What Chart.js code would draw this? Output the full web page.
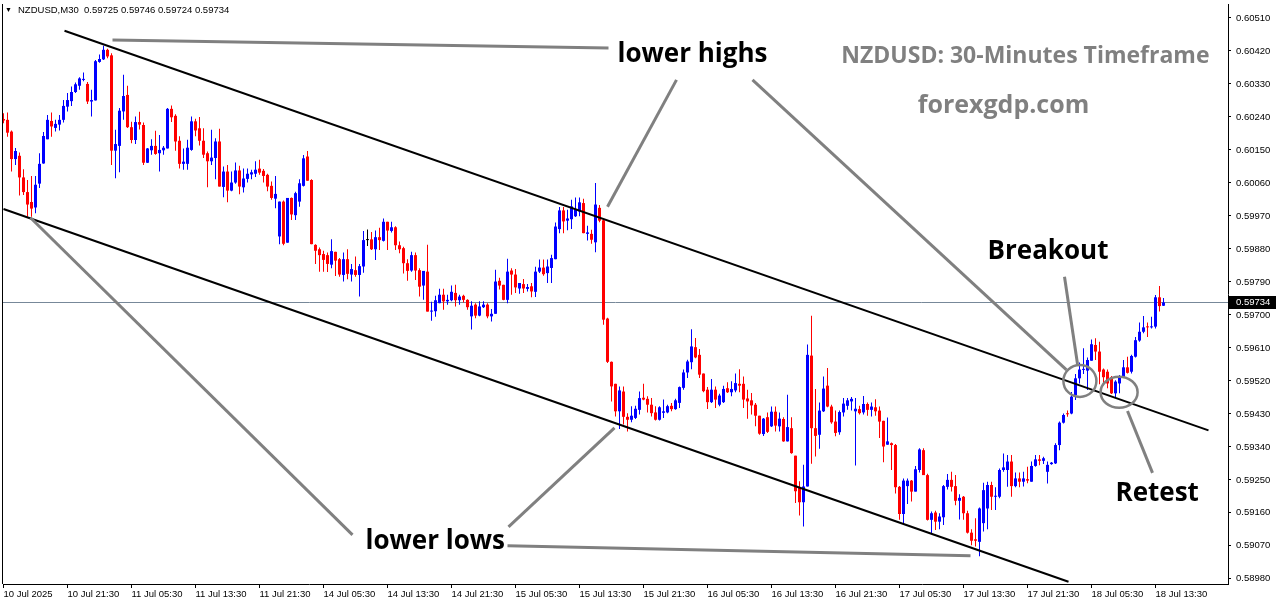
<!DOCTYPE html>
<html>
<head>
<meta charset="utf-8">
<title>NZDUSD M30</title>
<script src="https://cdn.jsdelivr.net/npm/chart.js@4.4.0/dist/chart.umd.min.js"></script>
<style>
  html, body { margin: 0; padding: 0; background: #fff; overflow: hidden; }
  canvas { display: block; }
</style>
</head>
<body>
<canvas id="chart" width="1276" height="604"></canvas>
<script>
// ---- data (NZDUSD, M30) ----
const symbolTitle = "NZDUSD,M30";
const lastPrice = 0.59734;

// bottom axis labels, one every 16 bars
const xLabels = [
  "10 Jul 2025", "10 Jul 21:30", "11 Jul 05:30", "11 Jul 13:30", "11 Jul 21:30",
  "14 Jul 05:30", "14 Jul 13:30", "14 Jul 21:30", "15 Jul 05:30", "15 Jul 13:30",
  "15 Jul 21:30", "16 Jul 05:30", "16 Jul 13:30", "16 Jul 21:30", "17 Jul 05:30",
  "17 Jul 13:30", "17 Jul 21:30", "18 Jul 05:30", "18 Jul 13:30"
];
const barsPerLabel = 16;

// right axis price labels
const yTicks = [
  0.60510, 0.60420, 0.60330, 0.60240, 0.60150, 0.60060, 0.59970, 0.59880, 0.59790,
  0.59700, 0.59610, 0.59520, 0.59430, 0.59340, 0.59250, 0.59160, 0.59070, 0.58980
];

const opens = [
  0.60234,0.60232,0.60200,0.60125,0.60134,0.60075,0.60035,0.60008,0.59993,0.60058,
  0.60113,0.60179,0.60229,0.60210,0.60219,0.60232,0.60268,0.60283,0.60308,0.60325,
  0.60341,0.60330,0.60282,0.60285,0.60390,0.60397,0.60423,0.60408,0.60148,0.60161,
  0.60255,0.60300,0.60212,0.60177,0.60226,0.60218,0.60115,0.60149,0.60161,0.60141,
  0.60149,0.60154,0.60262,0.60243,0.60175,0.60112,0.60112,0.60150,0.60228,0.60209,
  0.60175,0.60141,0.60119,0.60128,0.60173,0.60049,0.60091,0.60039,0.60061,0.60094,
  0.60048,0.60071,0.60083,0.60085,0.60099,0.60093,0.60082,0.60052,0.60017,0.59914,
  0.60009,0.59897,0.60019,0.59972,0.60009,0.60052,0.60132,0.60068,0.59891,0.59879,
  0.59866,0.59863,0.59837,0.59872,0.59852,0.59809,0.59852,0.59810,0.59822,0.59809,
  0.59832,0.59904,0.59906,0.59879,0.59912,0.59902,0.59954,0.59929,0.59939,0.59890,
  0.59882,0.59841,0.59821,0.59863,0.59822,0.59780,0.59818,0.59709,0.59710,0.59732,
  0.59755,0.59737,0.59740,0.59760,0.59740,0.59752,0.59741,0.59696,0.59728,0.59698,
  0.59721,0.59728,0.59696,0.59703,0.59793,0.59782,0.59741,0.59821,0.59810,0.59772,
  0.59784,0.59771,0.59778,0.59763,0.59818,0.59829,0.59814,0.59828,0.59852,0.59934,
  0.59985,0.59957,0.59961,0.59969,0.59982,0.60005,0.59921,0.59921,0.59898,0.59992,
  0.59958,0.59690,0.59572,0.59512,0.59437,0.59491,0.59422,0.59414,0.59419,0.59441,
  0.59474,0.59471,0.59455,0.59434,0.59414,0.59433,0.59434,0.59452,0.59443,0.59460,
  0.59501,0.59543,0.59571,0.59612,0.59591,0.59540,0.59496,0.59462,0.59496,0.59455,
  0.59462,0.59500,0.59489,0.59494,0.59512,0.59512,0.59472,0.59467,0.59455,0.59425,
  0.59375,0.59421,0.59396,0.59436,0.59396,0.59416,0.59355,0.59391,0.59316,0.59228,
  0.59189,0.59232,0.59589,0.59391,0.59373,0.59437,0.59507,0.59450,0.59409,0.59380,
  0.59434,0.59452,0.59464,0.59437,0.59443,0.59434,0.59457,0.59441,0.59448,0.59439,
  0.59411,0.59346,0.59350,0.59345,0.59231,0.59157,0.59233,0.59248,0.59218,0.59277,
  0.59331,0.59263,0.59141,0.59161,0.59136,0.59148,0.59231,0.59250,0.59233,0.59193,
  0.59204,0.59159,0.59106,0.59088,0.59081,0.59132,0.59172,0.59236,0.59204,0.59204,
  0.59277,0.59277,0.59300,0.59233,0.59254,0.59245,0.59252,0.59245,0.59288,0.59306,
  0.59302,0.59272,0.59293,0.59295,0.59345,0.59406,0.59431,0.59431,0.59481,0.59527,
  0.59550,0.59548,0.59575,0.59618,0.59600,0.59551,0.59545,0.59530,0.59486,0.59513,
  0.59531,0.59557,0.59545,0.59586,0.59630,0.59654,0.59668,0.59666,0.59668,0.59748,0.59725
];
const highs = [
  0.60250,0.60252,0.60203,0.60155,0.60143,0.60097,0.60068,0.60079,0.60079,0.60141,
  0.60199,0.60245,0.60252,0.60232,0.60245,0.60286,0.60305,0.60323,0.60334,0.60348,
  0.60361,0.60335,0.60314,0.60395,0.60410,0.60434,0.60426,0.60414,0.60205,0.60264,
  0.60355,0.60325,0.60227,0.60241,0.60254,0.60225,0.60155,0.60179,0.60202,0.60191,
  0.60161,0.60264,0.60271,0.60247,0.60187,0.60154,0.60178,0.60241,0.60235,0.60240,
  0.60209,0.60146,0.60205,0.60182,0.60208,0.60105,0.60109,0.60091,0.60116,0.60107,
  0.60099,0.60099,0.60096,0.60119,0.60123,0.60098,0.60085,0.60064,0.60079,0.60009,
  0.60012,0.60019,0.60020,0.60036,0.60070,0.60136,0.60147,0.60070,0.59893,0.59884,
  0.59875,0.59870,0.59906,0.59872,0.59855,0.59870,0.59879,0.59839,0.59859,0.59839,
  0.59929,0.59933,0.59926,0.59930,0.59938,0.59963,0.59954,0.59954,0.59942,0.59900,
  0.59886,0.59852,0.59872,0.59870,0.59827,0.59820,0.59891,0.59736,0.59752,0.59771,
  0.59771,0.59755,0.59780,0.59782,0.59755,0.59755,0.59743,0.59737,0.59732,0.59737,
  0.59737,0.59732,0.59716,0.59823,0.59801,0.59782,0.59853,0.59827,0.59825,0.59787,
  0.59798,0.59784,0.59787,0.59831,0.59851,0.59851,0.59851,0.59864,0.59952,0.59994,
  0.59994,0.59987,0.60014,0.60020,0.60020,0.60017,0.59943,0.59932,0.60060,0.60000,
  0.59960,0.59692,0.59573,0.59512,0.59505,0.59505,0.59432,0.59451,0.59452,0.59491,
  0.59512,0.59478,0.59473,0.59451,0.59451,0.59469,0.59455,0.59460,0.59471,0.59505,
  0.59551,0.59578,0.59661,0.59637,0.59607,0.59540,0.59503,0.59525,0.59505,0.59485,
  0.59507,0.59516,0.59519,0.59540,0.59552,0.59532,0.59496,0.59487,0.59460,0.59425,
  0.59419,0.59434,0.59450,0.59450,0.59434,0.59421,0.59482,0.59421,0.59316,0.59246,
  0.59291,0.59619,0.59698,0.59498,0.59461,0.59532,0.59555,0.59455,0.59439,0.59439,
  0.59473,0.59473,0.59476,0.59473,0.59452,0.59479,0.59461,0.59461,0.59470,0.59450,
  0.59411,0.59420,0.59352,0.59348,0.59233,0.59254,0.59254,0.59250,0.59288,0.59336,
  0.59336,0.59267,0.59164,0.59166,0.59159,0.59236,0.59266,0.59272,0.59263,0.59211,
  0.59206,0.59166,0.59115,0.59145,0.59175,0.59242,0.59245,0.59245,0.59230,0.59281,
  0.59322,0.59318,0.59318,0.59270,0.59270,0.59272,0.59286,0.59300,0.59318,0.59318,
  0.59313,0.59300,0.59299,0.59350,0.59409,0.59431,0.59439,0.59490,0.59539,0.59570,
  0.59609,0.59584,0.59633,0.59636,0.59627,0.59554,0.59551,0.59533,0.59522,0.59536,
  0.59577,0.59586,0.59591,0.59640,0.59679,0.59697,0.59679,0.59695,0.59754,0.59779,0.59746
];
const lows = [
  0.60223,0.60186,0.60091,0.60109,0.60026,0.60027,0.59968,0.59968,0.59977,0.60046,
  0.60112,0.60179,0.60186,0.60200,0.60203,0.60225,0.60255,0.60270,0.60305,0.60314,
  0.60337,0.60275,0.60241,0.60285,0.60388,0.60395,0.60400,0.60109,0.60073,0.60089,
  0.60232,0.60210,0.60168,0.60166,0.60206,0.60109,0.60114,0.60137,0.60137,0.60091,
  0.60137,0.60154,0.60226,0.60148,0.60099,0.60096,0.60096,0.60148,0.60187,0.60162,
  0.60128,0.60048,0.60109,0.60070,0.60050,0.60021,0.60007,0.60037,0.60058,0.60029,
  0.60034,0.60061,0.60070,0.60076,0.60082,0.60061,0.60037,0.60014,0.59991,0.59893,
  0.59890,0.59897,0.59959,0.59959,0.59995,0.60050,0.60066,0.59893,0.59839,0.59818,
  0.59818,0.59817,0.59827,0.59806,0.59804,0.59791,0.59797,0.59791,0.59804,0.59750,
  0.59815,0.59888,0.59877,0.59850,0.59877,0.59900,0.59877,0.59925,0.59877,0.59868,
  0.59813,0.59793,0.59818,0.59795,0.59750,0.59741,0.59709,0.59684,0.59695,0.59732,
  0.59714,0.59728,0.59737,0.59723,0.59728,0.59734,0.59714,0.59660,0.59691,0.59696,
  0.59719,0.59691,0.59682,0.59703,0.59769,0.59740,0.59732,0.59755,0.59760,0.59758,
  0.59760,0.59764,0.59748,0.59749,0.59814,0.59807,0.59787,0.59787,0.59852,0.59923,
  0.59923,0.59931,0.59934,0.59967,0.59969,0.59923,0.59903,0.59894,0.59871,0.59953,
  0.59673,0.59569,0.59464,0.59423,0.59389,0.59401,0.59382,0.59407,0.59416,0.59428,
  0.59467,0.59434,0.59423,0.59412,0.59412,0.59419,0.59432,0.59437,0.59441,0.59446,
  0.59496,0.59528,0.59552,0.59582,0.59528,0.59489,0.59443,0.59460,0.59446,0.59451,
  0.59460,0.59487,0.59478,0.59489,0.59489,0.59446,0.59417,0.59428,0.59396,0.59373,
  0.59370,0.59378,0.59394,0.59382,0.59382,0.59354,0.59355,0.59321,0.59187,0.59153,
  0.59123,0.59232,0.59294,0.59314,0.59335,0.59435,0.59448,0.59403,0.59369,0.59373,
  0.59423,0.59441,0.59439,0.59289,0.59428,0.59428,0.59425,0.59423,0.59425,0.59364,
  0.59298,0.59346,0.59277,0.59213,0.59141,0.59130,0.59184,0.59191,0.59218,0.59270,
  0.59263,0.59139,0.59104,0.59113,0.59115,0.59127,0.59224,0.59218,0.59181,0.59142,
  0.59141,0.59104,0.59072,0.59068,0.59042,0.59109,0.59115,0.59168,0.59168,0.59200,
  0.59272,0.59231,0.59204,0.59230,0.59230,0.59232,0.59241,0.59245,0.59286,0.59290,
  0.59293,0.59240,0.59291,0.59293,0.59331,0.59404,0.59422,0.59429,0.59468,0.59513,
  0.59539,0.59495,0.59575,0.59577,0.59511,0.59513,0.59500,0.59484,0.59475,0.59486,
  0.59530,0.59540,0.59540,0.59584,0.59627,0.59650,0.59640,0.59663,0.59663,0.59709,0.59724
];
const closes = [
  0.60230,0.60197,0.60125,0.60147,0.60075,0.60035,0.60001,0.59990,0.60055,0.60112,
  0.60188,0.60232,0.60214,0.60221,0.60232,0.60270,0.60286,0.60308,0.60329,0.60345,
  0.60343,0.60282,0.60286,0.60392,0.60398,0.60423,0.60405,0.60148,0.60166,0.60257,
  0.60297,0.60212,0.60177,0.60226,0.60219,0.60115,0.60154,0.60161,0.60139,0.60150,
  0.60156,0.60262,0.60239,0.60173,0.60112,0.60118,0.60156,0.60228,0.60203,0.60175,
  0.60137,0.60119,0.60129,0.60173,0.60050,0.60091,0.60039,0.60061,0.60094,0.60050,
  0.60072,0.60085,0.60089,0.60096,0.60088,0.60079,0.60050,0.60019,0.60030,0.60009,
  0.59894,0.60019,0.59974,0.60032,0.60059,0.60127,0.60066,0.59893,0.59875,0.59863,
  0.59850,0.59839,0.59874,0.59848,0.59810,0.59852,0.59812,0.59825,0.59809,0.59833,
  0.59904,0.59904,0.59879,0.59912,0.59904,0.59954,0.59930,0.59939,0.59890,0.59879,
  0.59841,0.59820,0.59863,0.59821,0.59777,0.59820,0.59709,0.59711,0.59740,0.59755,
  0.59737,0.59741,0.59763,0.59740,0.59750,0.59741,0.59721,0.59725,0.59698,0.59723,
  0.59728,0.59696,0.59703,0.59791,0.59780,0.59741,0.59818,0.59810,0.59775,0.59787,
  0.59772,0.59776,0.59764,0.59818,0.59829,0.59811,0.59832,0.59855,0.59941,0.59985,
  0.59955,0.59963,0.59996,0.59989,0.60007,0.59923,0.59925,0.59905,0.60001,0.59957,
  0.59687,0.59572,0.59505,0.59437,0.59494,0.59422,0.59414,0.59425,0.59444,0.59473,
  0.59469,0.59455,0.59432,0.59414,0.59448,0.59437,0.59451,0.59443,0.59467,0.59503,
  0.59543,0.59573,0.59614,0.59584,0.59537,0.59492,0.59462,0.59496,0.59469,0.59480,
  0.59498,0.59489,0.59498,0.59514,0.59507,0.59469,0.59464,0.59453,0.59425,0.59376,
  0.59417,0.59381,0.59436,0.59398,0.59417,0.59355,0.59394,0.59323,0.59219,0.59189,
  0.59232,0.59591,0.59391,0.59370,0.59439,0.59499,0.59450,0.59407,0.59378,0.59435,
  0.59458,0.59467,0.59471,0.59444,0.59432,0.59457,0.59441,0.59450,0.59437,0.59409,
  0.59341,0.59355,0.59345,0.59230,0.59157,0.59248,0.59248,0.59218,0.59279,0.59333,
  0.59263,0.59141,0.59159,0.59136,0.59150,0.59233,0.59250,0.59231,0.59193,0.59201,
  0.59159,0.59106,0.59084,0.59084,0.59172,0.59222,0.59236,0.59204,0.59206,0.59277,
  0.59284,0.59300,0.59233,0.59254,0.59245,0.59254,0.59248,0.59288,0.59306,0.59302,
  0.59309,0.59291,0.59297,0.59345,0.59406,0.59427,0.59429,0.59477,0.59527,0.59551,
  0.59551,0.59577,0.59620,0.59600,0.59545,0.59530,0.59513,0.59486,0.59518,0.59533,
  0.59557,0.59542,0.59588,0.59631,0.59654,0.59666,0.59666,0.59668,0.59748,0.59724,0.59734
];

// ---- drawings on the chart, in [bar index, price] ----
const channelLines = [
  [15.25, 0.60475, 301.25, 0.59385],
  [0, 0.59989, 266.25, 0.58972]
];
const pointerLines = [
  [27.25, 0.60450, 151.25, 0.60428],
  [168.25, 0.60341, 151, 0.59995],
  [187.25, 0.60341, 265.75, 0.59550],
  [265.25, 0.59804, 268.5, 0.59566],
  [281, 0.59438, 287.25, 0.59269],
  [6.75, 0.59965, 87.25, 0.59100],
  [126, 0.59070, 241.75, 0.59043],
  [126.25, 0.59122, 152.75, 0.59392]
];
const rings = [
  { i: 269.1, p: 0.59520, rx: 16.5, ry: 16 },
  { i: 278.9, p: 0.59489, rx: 18.5, ry: 15.5 }
];
const notes = [
  { text: "lower highs", i: 153.5, p: 0.60390, align: "left" },
  { text: "lower lows", i: 90.5, p: 0.59062, align: "left" },
  { text: "Breakout", i: 246, p: 0.59853, align: "left" },
  { text: "Retest", i: 278, p: 0.59193, align: "left" }
];
const watermarks = [
  { text: "NZDUSD: 30-Minutes Timeframe", i: 301.5, p: 0.60387, align: "right", size: 23 },
  { text: "forexgdp.com", i: 250, p: 0.60252, align: "center", size: 25 }
];

// ---- styling ----
const BULL = "#0000ff";
const BEAR = "#ff0000";
const DOJI = "#000000";
const SMALL_FONT = "'Liberation Sans', Arial, sans-serif";
const BIG_FONT = "'Open Sans', 'Noto Sans', sans-serif";

function candleColor(i) {
  if (closes[i] > opens[i]) return BULL;
  if (closes[i] < opens[i]) return BEAR;
  return DOJI;
}
const colors = opens.map((o, i) => candleColor(i));

const wickData = highs.map((h, i) => ({ x: i, y: [lows[i], h] }));
const bodyData = opens.map((o, i) => ({ x: i, y: [Math.min(o, closes[i]), Math.max(o, closes[i])] }));

const overlay = {
  id: "overlay",
  beforeDatasetsDraw(chart) {
    const { ctx, chartArea: a, scales: { y } } = chart;
    const py = Math.round(y.getPixelForValue(lastPrice)) + 0.5;
    ctx.save();
    ctx.strokeStyle = "#778899";
    ctx.lineWidth = 1;
    ctx.beginPath();
    ctx.moveTo(a.left, py);
    ctx.lineTo(a.right, py);
    ctx.stroke();
    ctx.restore();
  },
  afterDatasetsDraw(chart) {
    const { ctx, chartArea: a, scales: { x, y } } = chart;
    ctx.save();
    ctx.beginPath();
    ctx.rect(a.left, a.top, a.right - a.left, a.bottom - a.top);
    ctx.clip();

    const seg = (l) => {
      ctx.beginPath();
      ctx.moveTo(x.getPixelForValue(l[0]), y.getPixelForValue(l[1]));
      ctx.lineTo(x.getPixelForValue(l[2]), y.getPixelForValue(l[3]));
      ctx.stroke();
    };
    ctx.lineCap = "butt";
    ctx.strokeStyle = "#000";
    ctx.lineWidth = 2;
    channelLines.forEach(seg);

    ctx.strokeStyle = "#808080";
    ctx.lineWidth = 3;
    pointerLines.forEach(seg);

    ctx.lineWidth = 2.5;
    rings.forEach(r => {
      ctx.beginPath();
      ctx.ellipse(x.getPixelForValue(r.i), y.getPixelForValue(r.p), r.rx, r.ry, 0, 0, Math.PI * 2);
      ctx.stroke();
    });

    ctx.textBaseline = "alphabetic";
    ctx.fillStyle = "#000";
    ctx.font = "bold 26px " + BIG_FONT;
    notes.forEach(n => {
      ctx.textAlign = n.align;
      ctx.fillText(n.text, x.getPixelForValue(n.i), y.getPixelForValue(n.p));
    });

    ctx.fillStyle = "#808080";
    watermarks.forEach(n => {
      ctx.font = "bold " + n.size + "px " + BIG_FONT;
      ctx.textAlign = n.align;
      ctx.fillText(n.text, x.getPixelForValue(n.i), y.getPixelForValue(n.p));
    });
    ctx.restore();

    // header line
    ctx.save();
    ctx.fillStyle = "#000";
    ctx.font = "7px " + SMALL_FONT;
    ctx.textBaseline = "middle";
    ctx.textAlign = "left";
    ctx.fillText("\u25BC", 5, 10);
    ctx.font = "9.5px " + SMALL_FONT;
    const c = closes.length - 1;
    const quote = [opens[c], highs[c], lows[c], closes[c]].map(v => v.toFixed(5)).join(" ");
    ctx.fillText(symbolTitle + "  " + quote, 18, 10);

    // left frame
    ctx.fillRect(a.left - 1, a.top, 1, a.bottom - a.top);

    // last price tag on the right axis
    const py = Math.round(y.getPixelForValue(lastPrice));
    ctx.fillRect(a.right + 1, py - 6, 47, 13);
    ctx.fillStyle = "#fff";
    ctx.fillText(lastPrice.toFixed(5), a.right + 8, py + 0.5);
    ctx.restore();
  }
};

new Chart(document.getElementById("chart"), {
  type: "bar",
  data: {
    datasets: [
      {
        label: "wick",
        data: wickData,
        backgroundColor: colors,
        barThickness: 1,
        stack: "candle",
        inflateAmount: 0,
        borderWidth: 0
      },
      {
        label: "body",
        data: bodyData,
        backgroundColor: colors,
        barThickness: 3,
        minBarLength: 1,
        stack: "candle",
        inflateAmount: 0,
        borderWidth: 0
      }
    ]
  },
  options: {
    responsive: false,
    animation: false,
    devicePixelRatio: 1,
    layout: { padding: { left: 3, top: 4, right: 0, bottom: 0 } },
    plugins: { legend: { display: false }, tooltip: { enabled: false } },
    scales: {
      x: {
        type: "linear",
        stacked: true,
        offset: false,
        min: -0.125,
        max: 306.125,
        afterFit: s => { s.height = 20; s.paddingLeft = 0; s.paddingRight = 0; },
        afterBuildTicks: s => { s.ticks = xLabels.map((l, k) => ({ value: k * barsPerLabel })); },
        grid: { offset: false, drawOnChartArea: false, drawTicks: true, tickLength: 4, color: "#000" },
        border: { display: true, color: "#000", width: 1 },
        ticks: {
          autoSkip: false,
          maxRotation: 0,
          align: "start",
          padding: 1,
          color: "#000",
          font: { family: SMALL_FONT, size: 9.5 },
          callback: (v, k) => xLabels[k]
        }
      },
      y: {
        position: "right",
        stacked: false,
        min: 0.58966,
        max: 0.60548,
        afterFit: s => { s.width = 48; s.paddingTop = 0; s.paddingBottom = 0; },
        afterBuildTicks: s => { s.ticks = yTicks.map(v => ({ value: v })); },
        grid: { drawOnChartArea: false, drawTicks: true, tickLength: 3, color: "#000" },
        border: { display: true, color: "#000", width: 1 },
        ticks: {
          padding: 5,
          color: "#000",
          font: { family: SMALL_FONT, size: 9.5 },
          callback: v => Number(v).toFixed(5)
        }
      }
    }
  },
  plugins: [overlay]
});
</script>
</body>
</html>
